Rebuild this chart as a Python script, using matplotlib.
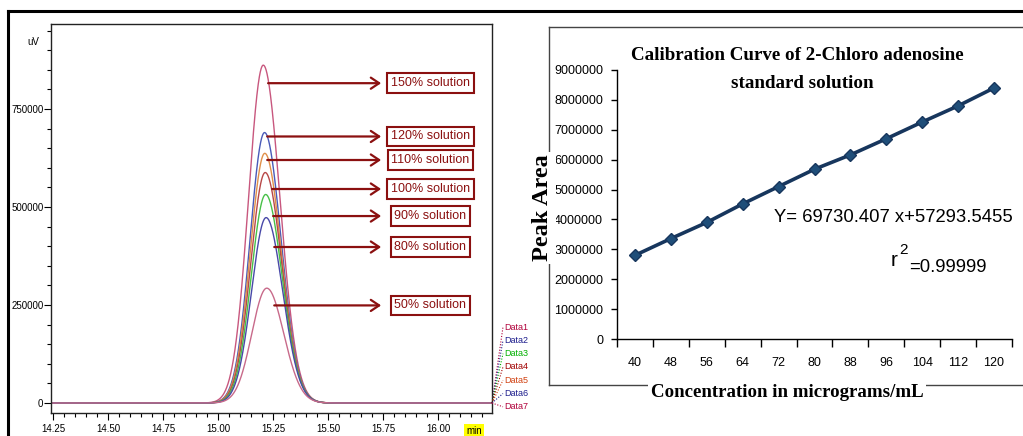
import numpy as np
import matplotlib
matplotlib.use("Agg")
import matplotlib.pyplot as plt
from matplotlib.lines import Line2D

# ---------------- data ----------------
peak_labels = ['150% solution', '120% solution', '110% solution', '100% solution',
               '90% solution', '80% solution', '50% solution']
peak_heights = [862000, 690000, 637000, 588000, 532000, 473000, 293000]
retention_times = [15.205, 15.211, 15.212, 15.214, 15.216, 15.218, 15.221]
peak_sigma_left = [0.067, 0.066, 0.066, 0.066, 0.066, 0.066, 0.068]
peak_sigma_right = [0.076, 0.075, 0.075, 0.075, 0.075, 0.075, 0.077]
arrow_levels = [816000, 680000, 620000, 546000, 477000, 398000, 249000]
arrow_tails = [15.227, 15.223, 15.223, 15.245, 15.250, 15.255, 15.255]
peak_colors = ['#c8577e', '#4a5ab8', '#e0904a', '#b84848', '#48c048', '#4848a8', '#c86a8a']

data_names = ['Data1', 'Data2', 'Data3', 'Data4', 'Data5', 'Data6', 'Data7']
data_colors = ['#b0003a', '#1c1c8c', '#00b000', '#a00000', '#d04010', '#1c1c8c', '#b0003a']

conc_labels = ['40', '48', '56', '64', '72', '80', '88', '96', '104', '112', '120']
peak_areas = [2800000, 3360000, 3900000, 4520000, 5100000, 5680000,
              6160000, 6700000, 7260000, 7800000, 8400000]

W, H = 1023, 436
fig = plt.figure(figsize=(W / 100, H / 100), dpi=100)


def fx(x):
    return x / W


def fy(y):
    return 1 - y / H


# ---------------- outer frames ----------------
fig.add_artist(Line2D([fx(8), fx(1023)], [fy(11), fy(11)], color='black', lw=2.2))
fig.add_artist(Line2D([fx(8), fx(8)], [fy(11), fy(436)], color='black', lw=2.2))
# right panel frame
fig.add_artist(Line2D([fx(549), fx(1023)], [fy(27), fy(27)], color='#444444', lw=1.0))
fig.add_artist(Line2D([fx(549), fx(549)], [fy(27), fy(385)], color='#444444', lw=1.0))
fig.add_artist(Line2D([fx(549), fx(1023)], [fy(385), fy(385)], color='#444444', lw=1.0))

# ---------------- left: chromatogram ----------------
ax1 = fig.add_axes([fx(51), fy(413), fx(492) - fx(51), fy(24) - fy(413)])
t = np.linspace(14.24, 16.245, 3000)
for h, rt, sl, sr, c in zip(peak_heights, retention_times, peak_sigma_left,
                            peak_sigma_right, peak_colors):
    sig = np.where(t < rt, sl, sr)
    ax1.plot(t, h * np.exp(-0.5 * ((t - rt) / sig) ** 2), color=c, lw=1.0)
ax1.set_xlim(14.24, 16.245)
ax1.set_ylim(-25500, 967000)
ax1.set_xticks([14.25, 14.50, 14.75, 15.00, 15.25, 15.50, 15.75, 16.00])
ax1.set_xticklabels(['14.25', '14.50', '14.75', '15.00', '15.25', '15.50', '15.75', '16.00'])
ax1.set_xticks(np.arange(14.25, 16.25, 0.05), minor=True)
ax1.set_yticks([0, 250000, 500000, 750000])
ax1.set_yticklabels(['0', '250000', '500000', '750000'])
ax1.set_yticks(np.arange(0, 960000, 50000), minor=True)
ax1.tick_params(axis='both', which='major', length=5, width=0.8, labelsize=7,
                direction='out')
ax1.tick_params(axis='both', which='minor', length=3, width=0.8, direction='out')
ax1.tick_params(axis='x', pad=3)
ax1.tick_params(axis='y', pad=0.5)
for lab in ax1.get_xticklabels() + ax1.get_yticklabels():
    lab.set_family('Liberation Sans')
for sp in ax1.spines.values():
    sp.set_linewidth(1.0)
    sp.set_color('#222222')

ax1.text(fx(33), fy(42), 'uV', transform=fig.transFigure, fontsize=7,
         family='Liberation Sans', ha='center', va='center')
ax1.text(fx(474), fy(431), 'min', transform=fig.transFigure, fontsize=7,
         family='Liberation Sans', ha='center', va='center',
         bbox=dict(boxstyle='square,pad=0.2', fc='#ffff00', ec='none'))

ann_col = '#8b1010'
for lab, lev, tail in zip(peak_labels, arrow_levels, arrow_tails):
    ax1.annotate('', xy=(15.741, lev), xytext=(tail, lev),
                 arrowprops=dict(arrowstyle='->,head_length=0.6,head_width=0.4',
                                 color=ann_col, lw=1.6, shrinkA=0, shrinkB=0))
    ax1.text(15.965, lev, lab, fontsize=9, family='Liberation Sans', color=ann_col,
             ha='center', va='center',
             bbox=dict(boxstyle='square,pad=0.3', fc='white', ec=ann_col, lw=1.5))

# Data labels with dotted leader lines
end_x, end_y = 492, 403
for i, (nm, c) in enumerate(zip(data_names, data_colors)):
    ly = 327 + i * 13.3
    fig.add_artist(Line2D([fx(end_x), fx(503)], [fy(end_y), fy(ly)], color=c,
                          lw=0.8, ls=(0, (1, 1.5))))
    fig.text(fx(504), fy(ly), nm, fontsize=6.5, family='Liberation Sans', color=c,
             ha='left', va='center')

# ---------------- right: calibration curve ----------------
ax2 = fig.add_axes([fx(617), fy(339), fx(1012) - fx(617), fy(70) - fy(339)])
xpos = np.arange(len(conc_labels))
ax2.plot(xpos, peak_areas, color='#17365d', lw=2.6, marker='D', markersize=6.5,
         markerfacecolor='#1f4e79', markeredgecolor='#17365d')
ax2.set_xlim(-0.5, len(conc_labels) - 0.5)
ax2.set_ylim(0, 9000000)
ax2.set_yticks(np.arange(0, 9000001, 1000000))
ax2.set_yticklabels([str(v) for v in range(0, 9000001, 1000000)])
ax2.set_xticks(np.arange(-0.5, len(conc_labels), 1.0))
ax2.set_xticklabels([])
ax2.set_xticks(xpos, minor=True)
ax2.set_xticklabels(conc_labels, minor=True)
ax2.tick_params(axis='x', which='major', length=6, width=1.0, direction='out')
ax2.tick_params(axis='x', which='minor', length=0, pad=13, labelsize=9)
ax2.tick_params(axis='y', which='major', length=4, width=1.0, direction='out',
                pad=6, labelsize=9)
for lab in ax2.get_xticklabels(minor=True) + ax2.get_yticklabels():
    lab.set_family('Liberation Sans')
ax2.spines['top'].set_visible(False)
ax2.spines['right'].set_visible(False)
for sp in ('left', 'bottom'):
    ax2.spines[sp].set_linewidth(1.0)
    ax2.spines[sp].set_color('black')

serif = ['Liberation Serif', 'DejaVu Serif']
fig.text(fx(797), fy(55), 'Calibration Curve of 2-Chloro adenosine', fontsize=13.7,
         family=serif, weight='bold', ha='center', va='center')
fig.text(fx(802), fy(83), 'standard solution', fontsize=13.7,
         family=serif, weight='bold', ha='center', va='center')
fig.text(fx(543), fy(208), 'Peak Area', fontsize=17.5, family=serif, weight='bold',
         rotation=90, ha='center', va='center',
         bbox=dict(boxstyle='square,pad=0.1', fc='white', ec='none'))
fig.text(fx(787), fy(392), 'Concentration in micrograms/mL', fontsize=13.6,
         family=serif, weight='bold', ha='center', va='center',
         bbox=dict(boxstyle='square,pad=0.15', fc='white', ec='none'))

sans = ['Liberation Sans', 'DejaVu Sans']
fig.text(fx(1013), fy(217), 'Y= 69730.407 x+57293.5455', fontsize=13.3,
         family=sans, ha='right', va='center')
fig.text(fx(891), fy(261), 'r', fontsize=15, family=sans, ha='left', va='center')
fig.text(fx(899), fy(250), '2', fontsize=11, family=sans, ha='left', va='center')
fig.text(fx(909), fy(267), '=0.99999', fontsize=13.3, family=sans, ha='left',
         va='center')

fig.savefig('out.png', dpi=100)
